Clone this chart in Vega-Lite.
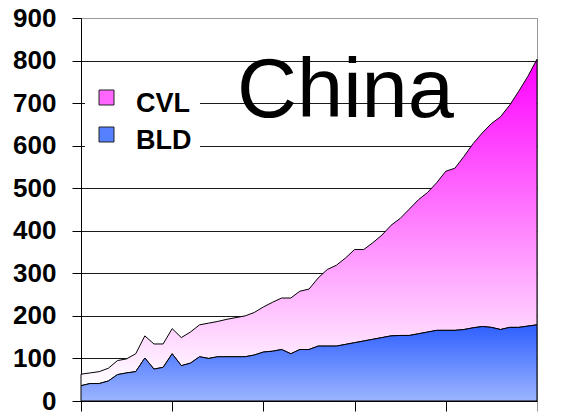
{
  "$schema": "https://vega.github.io/schema/vega-lite/v6.json",
  "width": 456,
  "height": 383,
  "autosize": {"type": "none"},
  "padding": {"left": 81, "top": 18, "right": 33, "bottom": 17},
  "background": "white",
  "config": {"view": {"stroke": "#999", "strokeWidth": 1}},
  "data": {"values": [
    {"year": 1950, "BLD": 36, "CVL": 27},
    {"year": 1951, "BLD": 41, "CVL": 25},
    {"year": 1952, "BLD": 41, "CVL": 28},
    {"year": 1953, "BLD": 47, "CVL": 30},
    {"year": 1954, "BLD": 62, "CVL": 33},
    {"year": 1955, "BLD": 66, "CVL": 33},
    {"year": 1956, "BLD": 69, "CVL": 42},
    {"year": 1957, "BLD": 101, "CVL": 52},
    {"year": 1958, "BLD": 75, "CVL": 59},
    {"year": 1959, "BLD": 79, "CVL": 55},
    {"year": 1960, "BLD": 111, "CVL": 59},
    {"year": 1961, "BLD": 83, "CVL": 66},
    {"year": 1962, "BLD": 89, "CVL": 73},
    {"year": 1963, "BLD": 104, "CVL": 75},
    {"year": 1964, "BLD": 100, "CVL": 83},
    {"year": 1965, "BLD": 104, "CVL": 83},
    {"year": 1966, "BLD": 104, "CVL": 88},
    {"year": 1967, "BLD": 104, "CVL": 92},
    {"year": 1968, "BLD": 104, "CVL": 96},
    {"year": 1969, "BLD": 108, "CVL": 100},
    {"year": 1970, "BLD": 115, "CVL": 106},
    {"year": 1971, "BLD": 117, "CVL": 115},
    {"year": 1972, "BLD": 121, "CVL": 121},
    {"year": 1973, "BLD": 111, "CVL": 131},
    {"year": 1974, "BLD": 121, "CVL": 137},
    {"year": 1975, "BLD": 121, "CVL": 142},
    {"year": 1976, "BLD": 129, "CVL": 160},
    {"year": 1977, "BLD": 129, "CVL": 180},
    {"year": 1978, "BLD": 129, "CVL": 190},
    {"year": 1979, "BLD": 133, "CVL": 203},
    {"year": 1980, "BLD": 137, "CVL": 219},
    {"year": 1981, "BLD": 141, "CVL": 215},
    {"year": 1982, "BLD": 145, "CVL": 227},
    {"year": 1983, "BLD": 149, "CVL": 241},
    {"year": 1984, "BLD": 153, "CVL": 260},
    {"year": 1985, "BLD": 154, "CVL": 275},
    {"year": 1986, "BLD": 154, "CVL": 297},
    {"year": 1987, "BLD": 158, "CVL": 315},
    {"year": 1988, "BLD": 162, "CVL": 328},
    {"year": 1989, "BLD": 166, "CVL": 347},
    {"year": 1990, "BLD": 166, "CVL": 374},
    {"year": 1991, "BLD": 166, "CVL": 381},
    {"year": 1992, "BLD": 168, "CVL": 407},
    {"year": 1993, "BLD": 172, "CVL": 433},
    {"year": 1994, "BLD": 175, "CVL": 455},
    {"year": 1995, "BLD": 173, "CVL": 479},
    {"year": 1996, "BLD": 168, "CVL": 500},
    {"year": 1997, "BLD": 173, "CVL": 522},
    {"year": 1998, "BLD": 173, "CVL": 555},
    {"year": 1999, "BLD": 176, "CVL": 587},
    {"year": 2000, "BLD": 179, "CVL": 624}
  ]},
  "transform": [
    {"fold": ["BLD", "CVL"], "as": ["type", "value"]},
    {"stack": "value", "groupby": ["year"], "sort": [{"field": "type", "order": "ascending"}], "as": ["lo", "hi"]}
  ],
  "encoding": {
    "x": {"field": "year", "type": "quantitative",
      "scale": {"domain": [1950, 2000], "nice": false, "zero": false},
      "axis": {"title": null, "labels": false, "grid": false, "values": [1950, 1960, 1970, 1980, 1990, 2000],
        "tickSize": 10, "tickColor": {"condition": {"test": "datum.value === 2000", "value": "#999"}, "value": "black"}, "domainColor": "black"}},
    "y": {"field": "hi", "type": "quantitative",
      "scale": {"domain": [0, 900], "nice": false},
      "axis": {"title": null, "values": [0, 100, 200, 300, 400, 500, 600, 700, 800, 900],
        "grid": true, "gridColor": {"condition": {"test": "datum.value === 900", "value": "#999"}, "value": "#1a1a1a"},
        "gridWidth": 1, "tickColor": "black", "tickSize": 9, "domainColor": "black",
        "labelFont": "Liberation Sans", "labelFontWeight": "bold", "labelFontSize": 26, "labelColor": "black", "labelPadding": 16}}
  },
  "layer": [
    {
      "transform": [{"filter": "datum.type === 'CVL'"}],
      "mark": {"type": "area", "stroke": "black", "strokeWidth": 1,
        "fill": {"gradient": "linear", "x1": 0, "y1": 0, "x2": 0, "y2": 1,
          "stops": [{"offset": 0, "color": "#ff00ff"}, {"offset": 1, "color": "#ffffff"}]}},
      "encoding": {"y2": {"field": "lo"}}
    },
    {
      "transform": [{"filter": "datum.type === 'BLD'"}],
      "mark": {"type": "area", "stroke": "black", "strokeWidth": 1,
        "fill": {"gradient": "linear", "x1": 0, "y1": 0, "x2": 0, "y2": 1,
          "stops": [{"offset": 0, "color": "#2e5fff"}, {"offset": 1, "color": "#9cb5ff"}]}},
      "encoding": {"y2": {"field": "lo"}}
    },
    {
      "mark": {"type": "point", "filled": true, "opacity": 0, "stroke": "#222", "strokeWidth": 1},
      "encoding": {
        "color": {"field": "type", "type": "nominal",
          "scale": {"domain": ["CVL", "BLD"], "range": ["#ff66ff", "#5580ff"]},
          "legend": {"orient": "none", "legendX": 4, "legendY": 58, "title": null,
            "symbolType": "square", "symbolSize": 225, "symbolStrokeColor": "#222", "symbolStrokeWidth": 1,
            "symbolOpacity": 1,
            "labelFont": "Liberation Sans", "labelFontWeight": "bold", "labelFontSize": 27, "labelColor": "black",
            "labelOffset": 16, "rowPadding": 4, "padding": 8, "fillColor": "white",
            "encode": {
              "symbols": {"update": {"opacity": {"value": 1}, "stroke": {"value": "#222"}, "strokeWidth": {"value": 1}}},
              "labels": {"update": {"dy": {"value": 6}}}
            }}}
      }
    },
    {
      "transform": [{"filter": "datum.year === 1950 && datum.type === 'BLD'"}],
      "mark": {"type": "text", "text": "China", "font": "Liberation Sans", "fontSize": 83, "align": "center", "baseline": "alphabetic", "color": "black"},
      "encoding": {
        "x": {"datum": 1979, "type": "quantitative"},
        "y": {"datum": 667, "type": "quantitative"}
      }
    }
  ]
}
